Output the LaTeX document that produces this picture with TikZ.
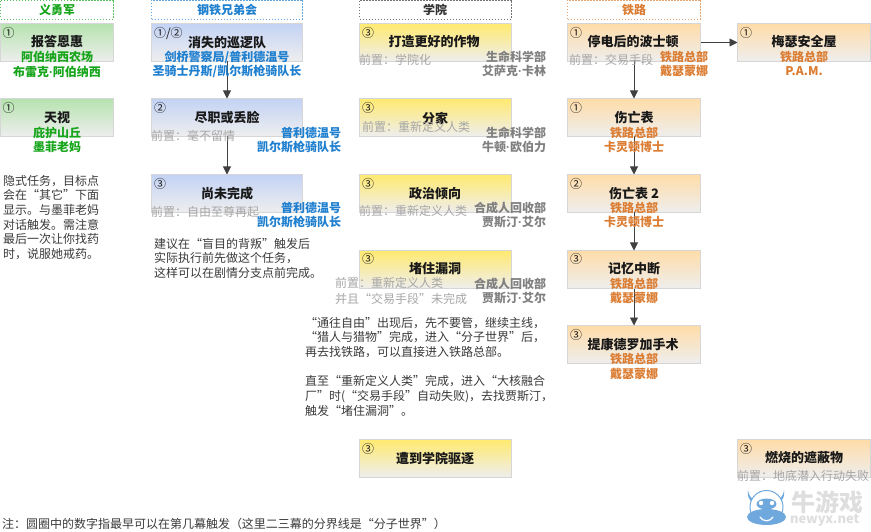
\documentclass[tikz,border=0pt]{standalone}
\usepackage{fontspec}
\setmainfont{Noto Sans CJK SC}
\newfontfamily\dotfont{Liberation Sans}
\newcommand{\mdot}{{\dotfont\bfseries ·}}
\usetikzlibrary{arrows.meta}
\definecolor{cgreen}{HTML}{17A51B}
\definecolor{cblue}{HTML}{1F7FCF}
\definecolor{cgrey}{HTML}{808080}
\definecolor{cpre}{HTML}{A6A6A6}
\definecolor{corange}{HTML}{DB7D33}
\definecolor{cbody}{HTML}{3A3A3A}
\definecolor{clogo}{HTML}{6FA8DC}
\definecolor{tgreen}{HTML}{B5E3AE}
\definecolor{tblue}{HTML}{C3D3F5}
\definecolor{tyellow}{HTML}{FFEA70}
\definecolor{torange}{HTML}{FFDCA8}
\definecolor{tend}{HTML}{EEEEEE}
\tikzset{
 x=1pt,y=-1pt,
 every node/.style={inner sep=0pt,outer sep=0pt},
 questbox/.style={draw=black!16,line width=1pt,minimum height=38pt,anchor=north west,bottom color=tend},
 gbox/.style={questbox,top color=tgreen,minimum width=113pt},
 bbox/.style={questbox,top color=tblue,minimum width=151pt},
 ybox/.style={questbox,top color=tyellow,minimum width=152pt},
 obox/.style={questbox,top color=torange,minimum width=133pt},
 head/.style={draw=#1,dash pattern=on 1.5pt off 1.5pt,line width=.7pt,minimum height=19pt,anchor=north west},
 qtitle/.style={font=\fontsize{13}{15}\selectfont\bfseries,text=black!90},
 qsub/.style={font=\fontsize{12}{14}\selectfont\bfseries,text=#1},
 qsubr/.style={qsub=#1,anchor=east},
 pre/.style={font=\fontsize{12}{14}\selectfont,text=cpre,anchor=west},
 num/.style={font=\fontsize{12}{14}\selectfont,text=black!90,anchor=west},
 note/.style={font=\fontsize{12}{14.7}\selectfont,text=cbody,align=left,anchor=north west},
 link/.style={draw=black!75,line width=.9pt,-{Triangle[length=8pt,width=8pt]}},
}
\begin{document}
\begin{tikzpicture}
\useasboundingbox (0,0) rectangle (871,532);
% headers
\node[head=cgreen!70!white,minimum width=113pt] (h1) at (.5,0) {};
\node[qsub=cgreen] (h1t) at (57,9.5) {义勇军};
\node[head=cblue!70!white,minimum width=151pt] (h2) at (151.5,0) {};
\node[qsub=cblue] (h2t) at (227,9.5) {钢铁兄弟会};
\node[head=black!55,minimum width=152pt] (h3) at (359.5,0) {};
\node[qsub=black!80] (h3t) at (435,9.5) {学院};
\node[head=corange!70!white,minimum width=133pt] (h4) at (567.5,0) {};
\node[qsub=corange] (h4t) at (634,9.5) {铁路};
% column 1
\node[gbox] (a1) at (.5,23.5) {};
\node[gbox] (a2) at (.5,98.5) {};
% column 2
\node[bbox] (b1) at (151.5,23.5) {};
\node[bbox] (b2) at (151.5,98.5) {};
\node[bbox] (b3) at (151.5,174.5) {};
% column 3
\node[ybox] (c1) at (359.5,23.5) {};
\node[ybox] (c2) at (359.5,98.5) {};
\node[ybox] (c3) at (359.5,174.5) {};
\node[ybox] (c4) at (359.5,250.5) {};
\node[ybox] (c5) at (359.5,439.5) {};
% column 4
\node[obox] (d1) at (567.5,23.5) {};
\node[obox] (d2) at (567.5,98.5) {};
\node[obox] (d3) at (567.5,174.5) {};
\node[obox] (d4) at (567.5,250.5) {};
\node[obox] (d5) at (567.5,325.5) {};
% column 5
\node[obox] (e1) at (737.5,23.5) {};
\node[obox] (e2) at (737.5,439.5) {};
% connectors
\draw[link] (b1) -- (b2);
\draw[link] (b2) -- (b3);
\draw[link] (d1) -- (d2);
\draw[link] (d2) -- (d3);
\draw[link] (d3) -- (d4);
\draw[link] (d4) -- (d5);
\draw[link] (d1) -- (e1);
% numbers
\node[num] (na1) at (2.5,33) {①};
\node[num] (na2) at (2.5,108) {①};
\node[num] (nb1) at (154,33) {①/②};
\node[num] (nb2) at (154,108) {②};
\node[num] (nb3) at (154,184) {③};
\node[num] (nc1) at (362,33) {③};
\node[num] (nc2) at (362,108) {③};
\node[num] (nc3) at (362,184) {③};
\node[num] (nc4) at (362,259) {③};
\node[num] (nc5) at (362,449) {③};
\node[num] (nd1) at (570,33) {①};
\node[num] (nd2) at (570,108) {①};
\node[num] (nd3) at (570,184) {②};
\node[num] (nd4) at (570,259) {③};
\node[num] (nd5) at (570,335) {③};
\node[num] (ne1) at (740,33) {①};
\node[num] (ne2) at (740,449) {③};
% column 1 texts
\node[qtitle] (ta1) at (57,42) {报答恩惠};
\node[qsub=cgreen] (sa1a) at (57,57) {阿伯纳西农场};
\node[qsub=cgreen] (sa1b) at (57,72) {布雷克\mdot 阿伯纳西};
\node[qtitle] (ta2) at (57,118) {天视};
\node[qsub=cgreen] (sa2a) at (57,133) {庇护山丘};
\node[qsub=cgreen] (sa2b) at (57,147) {墨菲老妈};
\node[note] (na) at (3,175) {隐式任务，目标点\\会在“其它”下面\\显示。与墨菲老妈\\对话触发。需注意\\最后一次让你找药\\时，说服她戒药。};
% column 2 texts
\node[qtitle] (tb1) at (227,43) {消失的巡逻队};
\node[qsub=cblue] (sb1a) at (227,57) {剑桥警察局/普利德温号};
\node[qsub=cblue] (sb1b) at (227,71) {圣骑士丹斯/凯尔斯枪骑队长};
\node[qtitle] (tb2) at (227,118) {尽职或丢脸};
\node[pre] (pb2) at (151,136) {前置：毫不留情};
\node[qsubr=cblue] (sb2a) at (341,133) {普利德温号};
\node[qsubr=cblue] (sb2b) at (341,147) {凯尔斯枪骑队长};
\node[qtitle] (tb3) at (227,194) {尚未完成};
\node[pre] (pb3) at (151,212) {前置：自由至尊再起};
\node[qsubr=cblue] (sb3a) at (341,208) {普利德温号};
\node[qsubr=cblue] (sb3b) at (341,222) {凯尔斯枪骑队长};
\node[note] (nb) at (154,238) {建议在“盲目的背叛”触发后\\实际执行前先做这个任务，\\这样可以在剧情分支点前完成。};
% column 3 texts
\node[qtitle] (tc1) at (434,42) {打造更好的作物};
\node[pre] (pc1) at (359,60) {前置：学院化};
\node[qsubr=cgrey] (sc1a) at (546,57) {生命科学部};
\node[qsubr=cgrey] (sc1b) at (546,71) {艾萨克\mdot 卡林};
\node[qtitle] (tc2) at (435,118) {分家};
\node[pre] (pc2) at (362,126.5) {前置：重新定义人类};
\node[qsubr=cgrey] (sc2a) at (546,133) {生命科学部};
\node[qsubr=cgrey] (sc2b) at (546,147) {牛顿\mdot 欧伯力};
\node[qtitle] (tc3) at (435,194) {政治倾向};
\node[pre] (pc3) at (359,211) {前置：重新定义人类};
\node[qsubr=cgrey] (sc3a) at (546,208) {合成人回收部};
\node[qsubr=cgrey] (sc3b) at (546,222) {贾斯汀\mdot 艾尔};
\node[qtitle] (tc4) at (435,269) {堵住漏洞};
\node[pre] (pc4a) at (335,283) {前置：重新定义人类};
\node[pre] (pc4b) at (335,299) {并且“交易手段”未完成};
\node[qsubr=cgrey] (sc4a) at (546,284) {合成人回收部};
\node[qsubr=cgrey] (sc4b) at (546,298) {贾斯汀\mdot 艾尔};
\node[note] (nc) at (305,317) {“通往自由”出现后，先不要管，继续主线，\\“猎人与猎物”完成，进入“分子世界”后，\\再去找铁路，可以直接进入铁路总部。\\[14.7pt]直至“重新定义人类”完成，进入“大核融合\\厂”时(“交易手段”自动失败)，去找贾斯汀，\\触发“堵住漏洞”。};
\node[qtitle] (tc5) at (435,459) {遭到学院驱逐};
% column 4 texts
\node[qtitle] (td1) at (633,42) {停电后的波士顿};
\node[pre] (pd1) at (569,60) {前置：交易手段};
\node[qsub=corange] (sd1a) at (684,57) {铁路总部};
\node[qsub=corange] (sd1b) at (684,71) {戴瑟蒙娜};
\node[qtitle] (td2) at (634,118) {伤亡表};
\node[qsub=corange] (sd2a) at (634,133) {铁路总部};
\node[qsub=corange] (sd2b) at (634,147) {卡灵顿博士};
\node[qtitle] (td3) at (634,194) {伤亡表 2};
\node[qsub=corange] (sd3a) at (634,208) {铁路总部};
\node[qsub=corange] (sd3b) at (634,222) {卡灵顿博士};
\node[qtitle] (td4) at (634,269) {记忆中断};
\node[qsub=corange] (sd4a) at (634,284) {铁路总部};
\node[qsub=corange] (sd4b) at (634,298) {戴瑟蒙娜};
\node[qtitle] (td5) at (633,345) {提康德罗加手术};
\node[qsub=corange] (sd5a) at (634,359) {铁路总部};
\node[qsub=corange] (sd5b) at (634,374) {戴瑟蒙娜};
% column 5 texts
\node[qtitle] (te1) at (804,42) {梅瑟安全屋};
\node[qsub=corange] (se1a) at (804,57) {铁路总部};
\node[qsub=corange] (se1b) at (804,71) {P.A.M.};
\node[qtitle] (te2) at (804,458) {燃烧的遮蔽物};
\node[pre] (pe2) at (737,476) {前置：地底潜入行动失败};
% footnote
\node[font=\fontsize{12}{14}\selectfont,text=cbody,anchor=west] (foot) at (2,524) {注：圆圈中的数字指最早可以在第几幕触发（这里二三幕的分界线是“分子世界”）};
% watermark
\fill[clogo] (748,490) .. controls (749,497) and (752,499) .. (756,500) -- (753,503) .. controls (749,500) and (747,496) .. (748,490);
\fill[clogo] (784,490) .. controls (783,497) and (780,499) .. (776,500) -- (779,503) .. controls (783,500) and (785,496) .. (784,490);
\draw[clogo,line width=1pt,fill=white] (766.5,507) circle (16.5);
\fill[clogo] (766.5,517) ellipse (19.5 and 8);
\fill[clogo] (766.5,504) ellipse (10 and 5.5);
\fill[white] (761,503) circle (2.2);
\fill[white] (772,503) circle (2.2);
\draw[white,line width=1.2pt,line cap=round] (760,517) .. controls (763,522) and (770,522) .. (773,517);
\node[font=\fontsize{24}{26}\selectfont\bfseries,text=black!13,anchor=west] (wm1) at (791,502) {牛游戏};
\node[font=\fontsize{13}{14}\selectfont\bfseries,text=black!13,anchor=west] (wm2) at (790,520) {newyx.net};
\end{tikzpicture}
\end{document}
